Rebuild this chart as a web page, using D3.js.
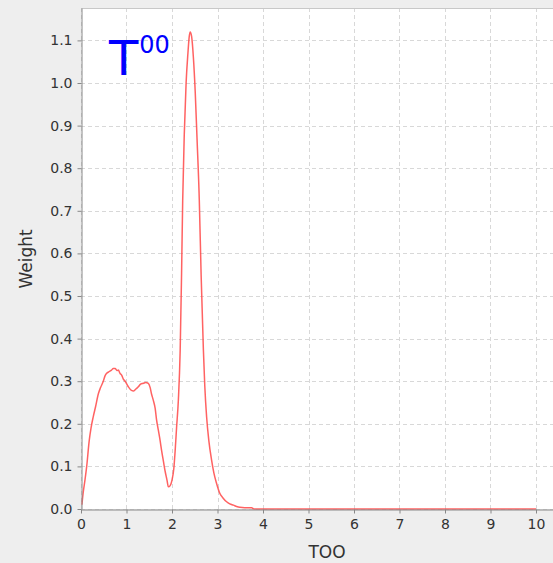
<!DOCTYPE html>
<html><head><meta charset="utf-8">
<script src="https://cdn.jsdelivr.net/npm/d3@7"></script>
<style>
html,body{margin:0;padding:0;background:#eeeeee;}
svg{display:block;}
</style></head>
<body>
<script>
const xs = [0.02,0.05,0.09,0.125,0.18,0.22,0.27,0.32,0.38,0.43,0.49,0.53,0.56,0.61,0.67,0.71,0.75,0.79,0.82,0.86,0.89,0.93,0.97,1.04,1.09,1.15,1.2,1.26,1.31,1.37,1.42,1.48,1.52,1.55,1.59,1.63,1.66,1.70,1.74,1.77,1.81,1.85,1.89,1.92,1.96,2.0,2.04,2.07,2.1,2.14,2.18,2.21,2.235,2.27,2.31,2.35,2.38,2.40,2.43,2.47,2.51,2.55,2.6,2.64,2.69,2.72,2.76,2.81,2.87,2.92,2.98,3.05,3.12,3.2,3.27,3.35,3.42,3.49,3.6,3.75,3.8,4,5,6,7,8,9,10];
const ys = [0.01,0.04,0.07,0.10,0.16,0.19,0.217,0.24,0.27,0.285,0.30,0.313,0.318,0.322,0.326,0.33,0.33,0.325,0.326,0.318,0.315,0.305,0.30,0.287,0.28,0.277,0.281,0.287,0.293,0.295,0.297,0.295,0.285,0.27,0.255,0.236,0.21,0.185,0.16,0.138,0.113,0.088,0.068,0.052,0.055,0.068,0.095,0.138,0.19,0.256,0.373,0.55,0.725,0.88,1.0,1.07,1.11,1.12,1.11,1.06,0.98,0.87,0.725,0.55,0.373,0.29,0.217,0.16,0.115,0.085,0.06,0.037,0.026,0.017,0.012,0.009,0.006,0.004,0.003,0.003,0,0,0,0,0,0,0,0];
const xTicks = [0,1,2,3,4,5,6,7,8,9,10];
const yTicks = [0.0,0.1,0.2,0.3,0.4,0.5,0.6,0.7,0.8,0.9,1.0,1.1];
const xLabel = "TOO";
const yLabel = "Weight";

const W = 553, H = 563;
const L = 81, T = 8, R = 553, B = 509;
const svg = d3.select("body").append("svg").attr("width", W).attr("height", H);
const x = d3.scaleLinear().domain([0, (R - L) / 45.5]).range([L, R]);
const y = d3.scaleLinear().domain([0, (B - T) / 426]).range([B, T]);

svg.append("rect").attr("x", L).attr("y", T).attr("width", R - L).attr("height", B - T).attr("fill", "#fff");

const grid = svg.append("g").attr("stroke", "#d8d8d8").attr("stroke-dasharray", "4,3").attr("stroke-width", 1);
xTicks.forEach(v => grid.append("line").attr("x1", Math.round(x(v)) + 0.5).attr("x2", Math.round(x(v)) + 0.5).attr("y1", T).attr("y2", B));
yTicks.forEach(v => grid.append("line").attr("y1", Math.round(y(v)) + 0.5).attr("y2", Math.round(y(v)) + 0.5).attr("x1", L).attr("x2", R));

svg.append("line").attr("x1", L).attr("x2", R).attr("y1", T + 0.5).attr("y2", T + 0.5).attr("stroke", "#c8c8c8");

const line = d3.line().x((d, i) => x(xs[i])).y((d, i) => y(ys[i])).curve(d3.curveMonotoneX);
svg.append("path").datum(ys).attr("d", line).attr("fill", "none").attr("stroke", "rgba(255,70,70,0.85)").attr("stroke-width", 1.5).attr("stroke-linejoin", "round");

const xAxis = d3.axisBottom(x).tickValues(xTicks).tickFormat(d3.format("d")).tickSize(4).tickSizeOuter(0);
const gx = svg.append("g").attr("transform", `translate(0,${B + 0.5})`).call(xAxis);
const yAxis = d3.axisLeft(y).tickValues(yTicks).tickFormat(d3.format(".1f")).tickSize(4).tickSizeOuter(0);
const gy = svg.append("g").attr("transform", `translate(${L + 0.5},0)`).call(yAxis);
[gx, gy].forEach(g => {
  g.select(".domain").attr("stroke", "#888");
  g.selectAll(".tick line").attr("stroke", "#888");
  g.selectAll("text").attr("fill", "#333").style("font-family", "DejaVu Sans, sans-serif").style("font-size", "14px");
});
gx.selectAll("text").attr("y", 9).attr("dy", "0.75em");
gy.selectAll("text").attr("x", -9);

svg.append("text").attr("x", 327).attr("y", 558).attr("text-anchor", "middle")
  .attr("fill", "#333").style("font-family", "DejaVu Sans, sans-serif").style("font-size", "17px").text(xLabel);
svg.append("text").attr("transform", `translate(32,259) rotate(-90)`).attr("text-anchor", "middle")
  .attr("fill", "#333").style("font-family", "DejaVu Sans, sans-serif").style("font-size", "17px").text(yLabel);

const ann = svg.append("text").attr("x", 109).attr("y", 75).attr("fill", "#0000ff").style("font-family", "DejaVu Sans, sans-serif");
ann.append("tspan").style("font-size", "48px").text("T");
ann.append("tspan").attr("dy", -22).attr("dx", 1).style("font-size", "24px").text("00");
</script>
</body></html>
